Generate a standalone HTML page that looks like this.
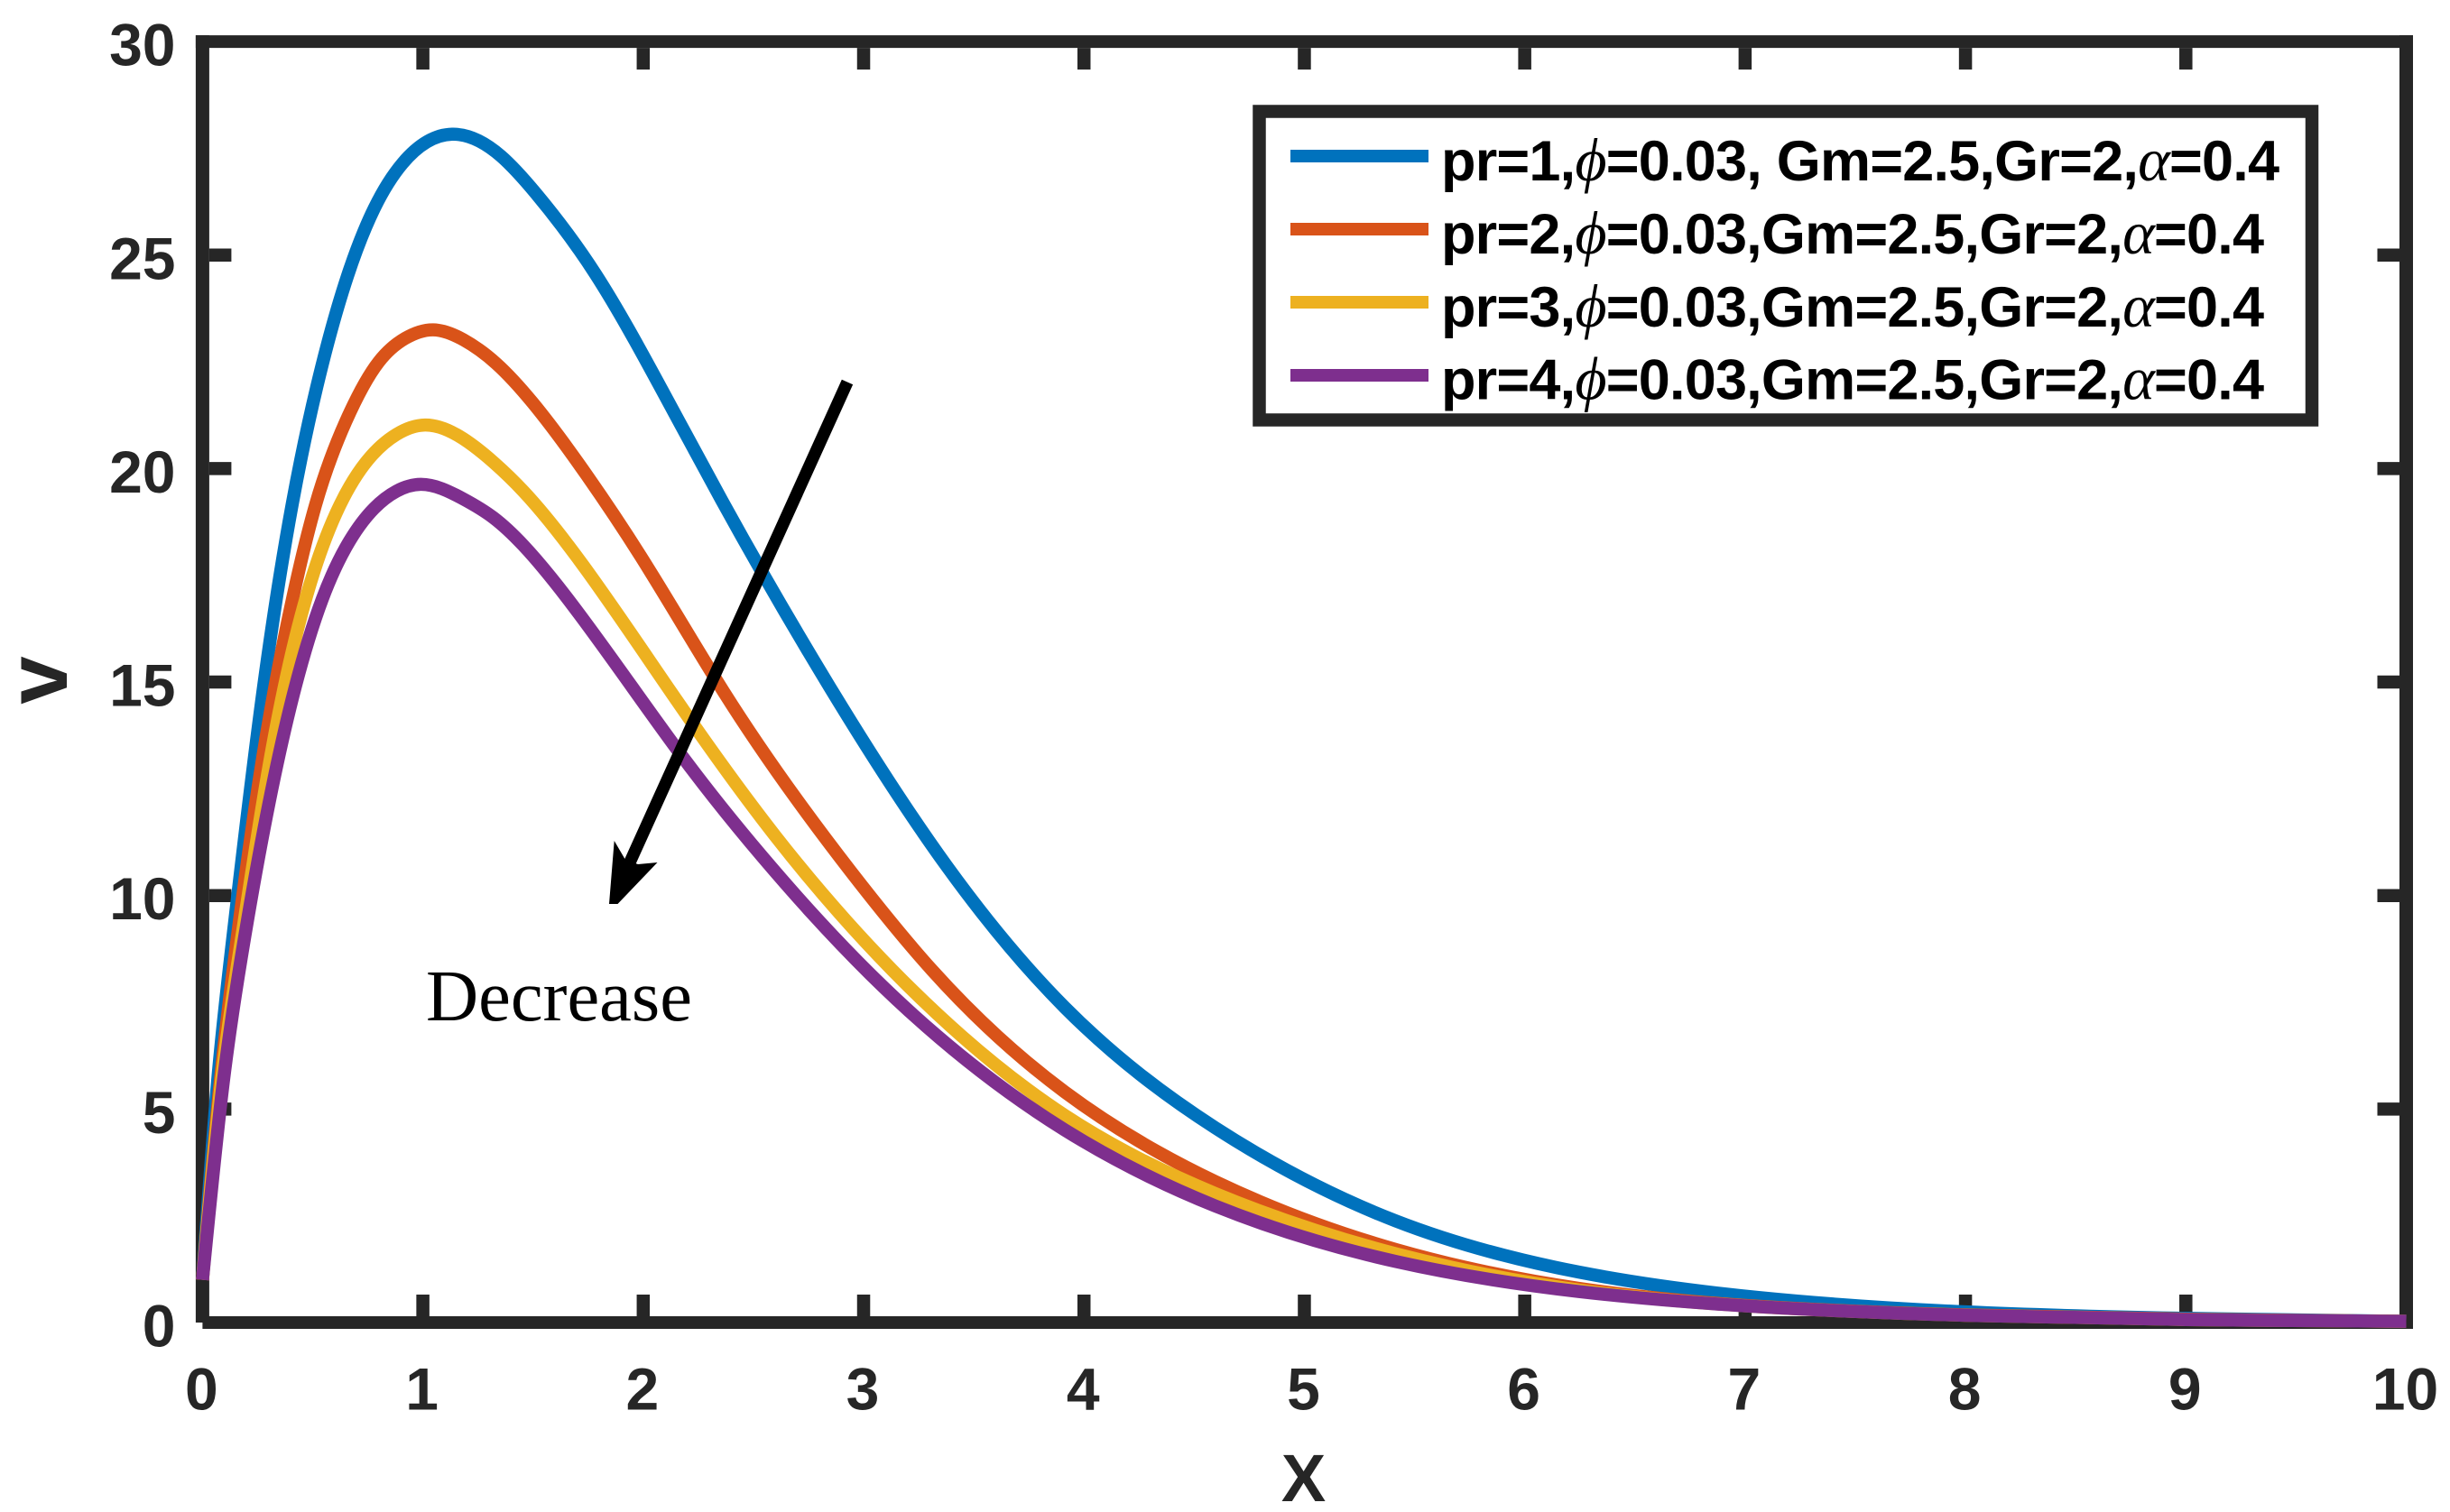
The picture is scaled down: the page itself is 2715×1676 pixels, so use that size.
<!DOCTYPE html>
<html lang="en">
<head>
<meta charset="utf-8">
<title>Velocity profile chart</title>
<style>
html,body{margin:0;padding:0;background:#fff;}
svg{display:block;}
.tick-label{font-family:"Liberation Sans",Arial,sans-serif;font-weight:700;font-size:66px;fill:#262626;}
.legend-text{font-family:"Liberation Sans",Arial,sans-serif;font-weight:700;font-size:63px;fill:#000;}
.greek{font-family:"Liberation Serif","DejaVu Serif",serif;font-style:italic;font-weight:400;font-size:68px;}
</style>
</head>
<body>
<svg id="chart" xmlns="http://www.w3.org/2000/svg" width="2715" height="1676" viewBox="0 0 2715 1676">
  <rect x="0" y="0" width="2715" height="1676" fill="#ffffff"/>
  <g id="axes"></g>
  <g id="series"></g>
  <g>
    <line x1="939" y1="423.5" x2="697" y2="958" stroke="#000" stroke-width="13.5"/>
    <polygon points="680.7,932 693,953 707,958 728.5,956 684.5,1002 675,1002" fill="#000"/>
    <text x="472" y="1131" font-family="'Liberation Serif',serif" font-size="80" fill="#000" textLength="295" lengthAdjust="spacingAndGlyphs">Decrease</text>
  </g>
  <g>
    <rect x="1395.5" y="123.5" width="1166.5" height="342" fill="#ffffff" stroke="#262626" stroke-width="14.5"/>
    <line x1="1430" x2="1583" y1="173" y2="173" stroke="#0072BD" stroke-width="14"/>
    <line x1="1430" x2="1583" y1="254" y2="254" stroke="#D95319" stroke-width="14"/>
    <line x1="1430" x2="1583" y1="335" y2="335" stroke="#EDB120" stroke-width="14"/>
    <line x1="1430" x2="1583" y1="416" y2="416" stroke="#7E2F8E" stroke-width="14"/>
    <text class="legend-text" x="1597" y="200" textLength="929">pr=1,<tspan class="greek">ϕ</tspan>=0.03, Gm=2.5,Gr=2,<tspan class="greek">α</tspan>=0.4</text>
    <text class="legend-text" x="1597" y="281" textLength="912">pr=2,<tspan class="greek">ϕ</tspan>=0.03,Gm=2.5,Gr=2,<tspan class="greek">α</tspan>=0.4</text>
    <text class="legend-text" x="1597" y="362" textLength="912">pr=3,<tspan class="greek">ϕ</tspan>=0.03,Gm=2.5,Gr=2,<tspan class="greek">α</tspan>=0.4</text>
    <text class="legend-text" x="1597" y="442.5" textLength="912">pr=4,<tspan class="greek">ϕ</tspan>=0.03,Gm=2.5,Gr=2,<tspan class="greek">α</tspan>=0.4</text>
  </g>
  <text x="1444.5" y="1664" text-anchor="middle" font-family="'Liberation Sans',sans-serif" font-weight="700" font-size="74" fill="#262626">X</text>
  <text transform="translate(74 754) rotate(-90)" text-anchor="middle" font-family="'Liberation Sans',sans-serif" font-weight="700" font-size="96" fill="#262626">v</text>
</svg>
<script>
const xTickValues = [0, 1, 2, 3, 4, 5, 6, 7, 8, 9, 10];
const yTickValues = [0, 5, 10, 15, 20, 25, 30];

const xPr1 = [0, 0.068, 0.128, 0.278, 0.4065, 0.518, 0.658, 0.78, 0.908, 1.133, 1.354, 1.512, 1.784, 2.084, 2.357, 2.842, 3.377, 3.913, 4.596, 5.415, 6.247, 7.066, 8, 9, 10];
const vPr1 = [1, 5.62, 8.58, 14.92, 19.15, 21.9, 24.51, 26.1, 27.15, 27.83, 27.32, 26.45, 24.55, 21.85, 19.25, 14.92, 10.69, 7.38, 4.56, 2.38, 1.18, 0.585, 0.25, 0.1, 0.03];

const xPr2 = [0, 0.08, 0.147, 0.26, 0.412, 0.513, 0.65, 0.8, 0.92, 1.047, 1.183, 1.333, 1.497, 1.743, 1.988, 2.364, 2.944, 3.311, 3.913, 4.596, 5.415, 6.247, 7.066, 8, 9, 10];
const vPr2 = [1, 5.62, 8.58, 12.8, 17.03, 19.15, 21.1, 22.5, 23.05, 23.25, 23.02, 22.46, 21.55, 19.85, 17.95, 14.78, 10.55, 8.25, 5.4, 3.3, 1.71, 0.8, 0.38, 0.18, 0.08, 0.03];

const xPr3 = [0, 0.085, 0.165, 0.294, 0.473, 0.624, 0.75, 0.88, 1.01, 1.183, 1.32, 1.456, 1.729, 2.152, 2.6, 3.131, 3.913, 4.596, 5.415, 6.247, 7.066, 8, 9, 10];
const vPr3 = [1, 5.62, 8.58, 12.8, 17.03, 19.15, 20.2, 20.8, 21.02, 20.7, 20.15, 19.47, 17.72, 14.57, 11.39, 8.25, 4.85, 3.02, 1.61, 0.76, 0.37, 0.17, 0.07, 0.03];

const xPr4 = [0, 0.094, 0.177, 0.327, 0.544, 0.65, 0.779, 0.88, 0.99, 1.183, 1.32, 1.456, 1.65, 2.193, 2.542, 3.03, 3.913, 4.596, 5.415, 6.247, 7.066, 8, 9, 10];
const vPr4 = [1, 5.62, 8.58, 12.8, 16.95, 18.15, 19.07, 19.47, 19.63, 19.29, 18.85, 18.2, 17.0, 13.15, 10.9, 8.16, 4.51, 2.73, 1.43, 0.725, 0.37, 0.17, 0.07, 0.03];

const NS = 'http://www.w3.org/2000/svg';
const sx = function (v) { return 224.4 + v * 244.21; };
const sy = function (v) { return 1466 - v * 47.33; };
const axes = document.getElementById('axes');
const seriesGroup = document.getElementById('series');
const AXIS_COLOR = '#262626';

function drawLine(x1, y1, x2, y2, w) {
  const l = document.createElementNS(NS, 'line');
  l.setAttribute('x1', x1);
  l.setAttribute('y1', y1);
  l.setAttribute('x2', x2);
  l.setAttribute('y2', y2);
  l.setAttribute('stroke', AXIS_COLOR);
  l.setAttribute('stroke-width', w);
  axes.appendChild(l);
  return l;
}

const frameLeft = drawLine(sx(0), sy(30) - 7, sx(0), sy(0), 15);


const frameBottom = drawLine(sx(0), sy(0), sx(10) + 7.5, sy(0), 14);


const frameTop = drawLine(sx(0) - 7.5, sy(30), sx(10) + 7.5, sy(30), 14);


const frameRight = drawLine(sx(10), sy(30) - 7, sx(10), sy(0) + 7, 15);



xTickValues.forEach(function (t) {
  if (t > 0 && t < 10) {
    const a = drawLine(sx(t), sy(0) - 7, sx(t), sy(0) - 31, 14.5);
    
    
    const b = drawLine(sx(t), sy(30) + 7, sx(t), sy(30) + 31, 14.5);
    
    
  }
  const lab = document.createElementNS(NS, 'text');
  lab.setAttribute('class', 'tick-label');
  
  
  lab.setAttribute('x', sx(t) - 1);
  lab.setAttribute('y', 1562.5);
  lab.setAttribute('text-anchor', 'middle');
  lab.textContent = String(t);
  axes.appendChild(lab);
});

yTickValues.forEach(function (t) {
  if (t > 0 && t < 30) {
    const a = drawLine(sx(0) + 7.5, sy(t), sx(0) + 32, sy(t), 14.5);
    
    
    const b = drawLine(sx(10) - 7.5, sy(t), sx(10) - 32, sy(t), 14.5);
    
    
  }
  const lab = document.createElementNS(NS, 'text');
  lab.setAttribute('class', 'tick-label');
  
  
  lab.setAttribute('x', 194.5);
  lab.setAttribute('y', sy(t) + 26.5);
  lab.setAttribute('text-anchor', 'end');
  lab.textContent = String(t);
  axes.appendChild(lab);
});

// Natural cubic spline through the read points, emitted as Bezier segments.
function splinePath(xs, vs) {
  const px = xs.map(sx);
  const py = vs.map(sy);
  const n = px.length;
  const h = [];
  for (let i = 0; i < n - 1; i++) { h.push(px[i + 1] - px[i]); }
  const a = new Array(n).fill(0);
  const b = new Array(n).fill(1);
  const c = new Array(n).fill(0);
  const r = new Array(n).fill(0);
  for (let i = 1; i < n - 1; i++) {
    a[i] = h[i - 1];
    b[i] = 2 * (h[i - 1] + h[i]);
    c[i] = h[i];
    r[i] = 6 * ((py[i + 1] - py[i]) / h[i] - (py[i] - py[i - 1]) / h[i - 1]);
  }
  for (let i = 1; i < n; i++) {
    const m = a[i] / b[i - 1];
    b[i] -= m * c[i - 1];
    r[i] -= m * r[i - 1];
  }
  const k = new Array(n).fill(0);
  k[n - 1] = r[n - 1] / b[n - 1];
  for (let i = n - 2; i >= 0; i--) { k[i] = (r[i] - c[i] * k[i + 1]) / b[i]; }
  let d = 'M' + px[0].toFixed(2) + ' ' + py[0].toFixed(2);
  for (let i = 0; i < n - 1; i++) {
    const s = (py[i + 1] - py[i]) / h[i];
    const t0 = s - h[i] * (2 * k[i] + k[i + 1]) / 6;
    const t1 = s + h[i] * (k[i] + 2 * k[i + 1]) / 6;
    const dx = h[i] / 3;
    d += 'C' + (px[i] + dx).toFixed(2) + ' ' + (py[i] + dx * t0).toFixed(2) + ' ' +
      (px[i + 1] - dx).toFixed(2) + ' ' + (py[i + 1] - dx * t1).toFixed(2) + ' ' +
      px[i + 1].toFixed(2) + ' ' + py[i + 1].toFixed(2);
  }
  return d;
}

function drawSeries(xs, vs, color) {
  const p = document.createElementNS(NS, 'path');
  p.setAttribute('d', splinePath(xs, vs));
  p.setAttribute('fill', 'none');
  p.setAttribute('stroke', color);
  p.setAttribute('stroke-width', 14.5);
  p.setAttribute('stroke-linejoin', 'round');
  seriesGroup.appendChild(p);
  return p;
}

const linePr1 = drawSeries(xPr1, vPr1, '#0072BD');


const linePr2 = drawSeries(xPr2, vPr2, '#D95319');


const linePr3 = drawSeries(xPr3, vPr3, '#EDB120');


const linePr4 = drawSeries(xPr4, vPr4, '#7E2F8E');


</script>
</body>
</html>
